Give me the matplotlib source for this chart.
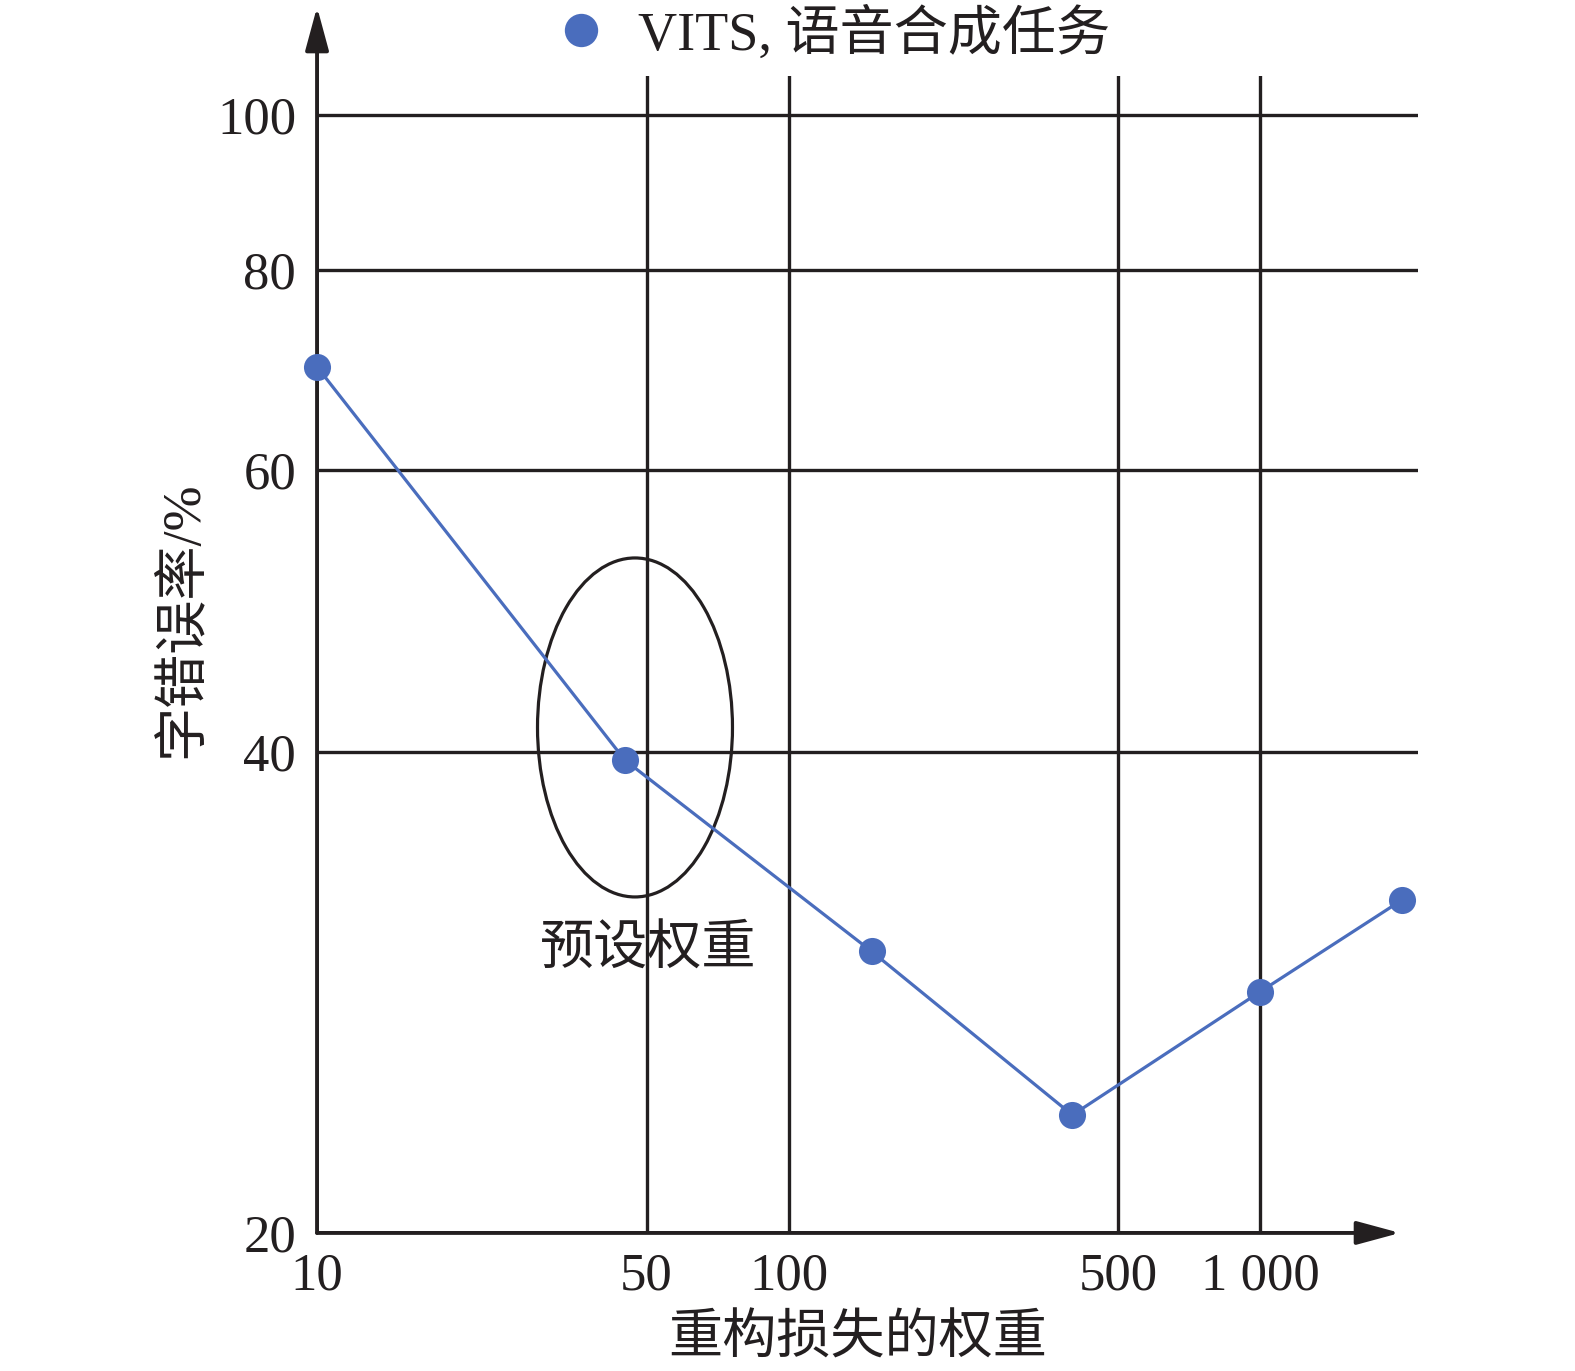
import numpy as np
import matplotlib.pyplot as plt
from matplotlib.patches import Ellipse
from matplotlib.lines import Line2D

plt.rcParams['font.family'] = ['Liberation Serif', 'Noto Sans CJK SC']

# --- data ---
weights = [10, 45, 150, 400, 1000, 2000]
cer = [69.6, 39.5, 30.0, 23.7, 28.3, 32.3]
x_ticks = [10, 50, 100, 500, 1000]
x_ticklabels = ['10', '50', '100', '500', '1 000']
y_ticks = [20, 40, 60, 80, 100]
y_ticklabels = ['20', '40', '60', '80', '100']
series_label = 'VITS, 语音合成任务'
preset_label = '预设权重'
x_label = '重构损失的权重'
y_label = '字错误率/%'

blue = '#4A6DBD'
dark = '#231F20'

fig = plt.figure(figsize=(15.75, 13.71), dpi=100)
ax = fig.add_axes([0.2013, 0.1007, 0.699, 0.8439])

ax.set_xscale('log')
ax.set_yscale('log')
ax.set_xlim(10, 2163)
ax.set_ylim(20, 105.8)
ax.minorticks_off()

ax.set_xticks(x_ticks)
ax.set_xticklabels(x_ticklabels)
ax.set_yticks(y_ticks)
ax.set_yticklabels(y_ticklabels)
ax.tick_params(axis='both', length=0, labelsize=38, colors=dark)
ax.tick_params(axis='x', pad=14)
ax.tick_params(axis='y', pad=15)

# grid lines (the first tick of each axis is the axis itself)
for xv in x_ticks[1:]:
    ax.axvline(xv, color=dark, lw=2.4, zorder=1)
for yv in y_ticks[1:]:
    ax.axhline(yv, color=dark, lw=2.4, zorder=1)
for s in ax.spines.values():
    s.set_visible(False)

# axis arrows
arrow = dict(arrowstyle='-|>,head_length=1.33,head_width=0.36', lw=2.8,
             color=dark, shrinkA=0, shrinkB=0, mutation_scale=20)
ax.annotate('', xy=(0, 1.0596), xytext=(0, 0), xycoords='axes fraction',
            arrowprops=arrow, annotation_clip=False)
ax.annotate('', xy=(0.9837, 0), xytext=(0, 0), xycoords='axes fraction',
            arrowprops=arrow, annotation_clip=False)

# data
ax.plot(weights, cer, color=blue, lw=2.3, marker='o', ms=19.5,
        markeredgewidth=0, clip_on=False, zorder=4)

# preset-weight mark
ax.add_patch(Ellipse((0.2888, 0.4369), 0.1771, 0.293, transform=ax.transAxes,
                     fill=False, ec=dark, lw=2.3, zorder=3))
ax.text(0.3006, 0.2429, preset_label, transform=ax.transAxes, fontsize=39,
        ha='center', va='center', color=dark)

ax.set_xlabel(x_label, fontsize=39, color=dark, va='center')
ax.xaxis.set_label_coords(0.4914, -0.093)
ax.set_ylabel(y_label, fontsize=39, color=dark, va='center')
ax.yaxis.set_label_coords(-0.1217, 0.5298)

handle = Line2D([], [], ls='none', marker='o', ms=24, color=blue, markeredgewidth=0)
fig.legend(handles=[handle], labels=[series_label], loc='center',
           bbox_to_anchor=(0.528, 0.975), frameon=False, fontsize=39,
           handlelength=1.0, handletextpad=0.55, labelcolor=dark)

fig.savefig('out.png', dpi=100)
